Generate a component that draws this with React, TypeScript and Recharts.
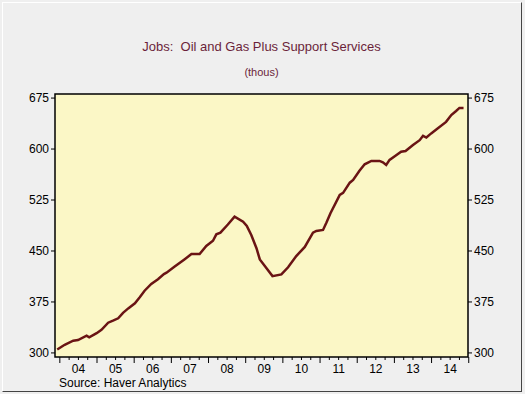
import {
  LineChart,
  Line,
  XAxis,
  YAxis,
  ReferenceArea,
} from "recharts";

// decimal year of each reading
const times = [
  2003.93, 2004.13, 2004.36, 2004.49, 2004.72, 2004.79, 2004.99, 2005.12, 2005.3, 2005.43,
  2005.57, 2005.7, 2005.84, 2006.02, 2006.15, 2006.28, 2006.46, 2006.64, 2006.8, 2006.87,
  2007.09, 2007.36, 2007.54, 2007.76, 2007.94, 2008.12, 2008.21, 2008.32, 2008.52, 2008.7,
  2008.93, 2009.03, 2009.15, 2009.29, 2009.38, 2009.56, 2009.72, 2009.96, 2010.14, 2010.36,
  2010.59, 2010.81, 2010.9, 2011.08, 2011.17, 2011.28, 2011.53, 2011.62, 2011.8, 2011.89,
  2012.06, 2012.2, 2012.38, 2012.6, 2012.69, 2012.78, 2012.87, 2013.01, 2013.18, 2013.3,
  2013.5, 2013.68, 2013.77, 2013.86, 2013.99, 2014.17, 2014.39, 2014.53, 2014.66, 2014.75,
  2014.86,
];

// jobs, thousands
const jobs = [
  305, 312, 318, 319, 325.5, 323, 329, 334, 344.5, 347.5,
  351, 359, 365.5, 373, 382, 391.5, 401.5, 408.5, 416, 418,
  427, 438, 445.5, 445.5, 457.5, 465, 474.5, 477, 489, 500.5,
  493, 487, 473.5, 454, 437.5, 424.5, 413, 415.5, 426, 442.5,
  456, 477, 479.5, 481, 491.5, 505.5, 532.5, 535.5, 550.5, 554.5,
  568, 577.5, 582.5, 582.5, 580.5, 576.5, 584, 589.5, 596, 597,
  606, 613, 619.5, 617, 623, 630.5, 640, 650, 656, 660.5,
  660.5,
];

const yTicks = [300, 375, 450, 525, 600, 675];
const years = ["04", "05", "06", "07", "08", "09", "10", "11", "12", "13", "14"];

const X_MIN = 2003.87;
const X_MAX = 2014.98;
const Y_MIN = 294;
const Y_MAX = 681;

const data = times.map((t, i) => ({ t, jobs: jobs[i] }));

// quarter ticks from 2004 to 2015
const xTicks: number[] = [];
for (let q = 0; q <= 44; q++) xTicks.push(2004 + q / 4);

const font = "Arial, 'Liberation Sans', sans-serif";

function QuarterTick(props: any) {
  const { x, y, payload } = props;
  const v: number = payload.value;
  const frac = Math.round((v % 1) * 4);
  const major = frac === 0;
  const labelIdx = frac === 2 ? Math.floor(v) - 2004 : -1;
  return (
    <g>
      <line x1={x} x2={x} y1={y} y2={y + (major ? 6 : 3)} stroke="#000" strokeWidth={1} />
      {labelIdx >= 0 && labelIdx < years.length && (
        <text x={x} y={y + 16} textAnchor="middle" fontSize={12} fontFamily={font} fill="#000">
          {years[labelIdx]}
        </text>
      )}
    </g>
  );
}

export default function App() {
  return (
    <div style={{ position: "absolute", left: 0, top: 0, width: 525, height: 394, background: "#efefef", fontFamily: font }}>
      <div
        style={{
          position: "absolute", left: 2, top: 2, width: 518, height: 388,
          borderTop: "1px solid #fff", borderLeft: "1px solid #fff",
          borderRight: "1px solid #444", borderBottom: "1px solid #444",
        }}
      />
      <div style={{ position: "absolute", left: 0, width: 523, top: 39, textAlign: "center", fontSize: 13, color: "#6b1f3a", whiteSpace: "pre" }}>
        {"Jobs:  Oil and Gas Plus Support Services"}
      </div>
      <div style={{ position: "absolute", left: 0, width: 523, top: 66, textAlign: "center", fontSize: 11, color: "#6b1f3a" }}>
        (thous)
      </div>
      <div style={{ position: "absolute", left: 59, top: 377, fontSize: 12, lineHeight: "12px", color: "#000" }}>
        Source: Haver Analytics
      </div>
      <div style={{ position: "absolute", left: 0, top: 0 }}>
        <LineChart width={525} height={394} data={data} margin={{ top: 94, right: 12, bottom: 17, left: 10 }}>
          <XAxis
            dataKey="t"
            type="number"
            domain={[X_MIN, X_MAX]}
            ticks={xTicks}
            interval={0}
            tick={<QuarterTick />}
            tickLine={false}
            tickSize={0}
            tickMargin={0}
            axisLine={false}
            height={20}
            allowDataOverflow
          />
          <YAxis
            yAxisId="left"
            domain={[Y_MIN, Y_MAX]}
            ticks={yTicks}
            interval={0}
            width={45}
            tickSize={4}
            tickMargin={2}
            axisLine={false}
            tickLine={{ stroke: "#000" }}
            tick={{ fontSize: 12, fill: "#000", fontFamily: font }}
            allowDataOverflow
          />
          <YAxis
            yAxisId="right"
            orientation="right"
            domain={[Y_MIN, Y_MAX]}
            ticks={yTicks}
            interval={0}
            width={45}
            tickSize={4}
            tickMargin={2}
            axisLine={false}
            tickLine={{ stroke: "#000" }}
            tick={{ fontSize: 12, fill: "#000", fontFamily: font }}
            allowDataOverflow
          />
          <ReferenceArea
            yAxisId="left"
            x1={X_MIN}
            x2={X_MAX}
            y1={Y_MIN}
            y2={Y_MAX}
            fill="#fbf7c6"
            fillOpacity={1}
            stroke="#000"
            strokeWidth={1.5}
          />
          <Line
            yAxisId="right"
            dataKey="jobs"
            stroke="none"
            dot={false}
            isAnimationActive={false}
          />
          <Line
            yAxisId="left"
            type="linear"
            dataKey="jobs"
            stroke="#6a1414"
            strokeWidth={2.5}
            dot={false}
            isAnimationActive={false}
          />
        </LineChart>
      </div>
    </div>
  );
}
